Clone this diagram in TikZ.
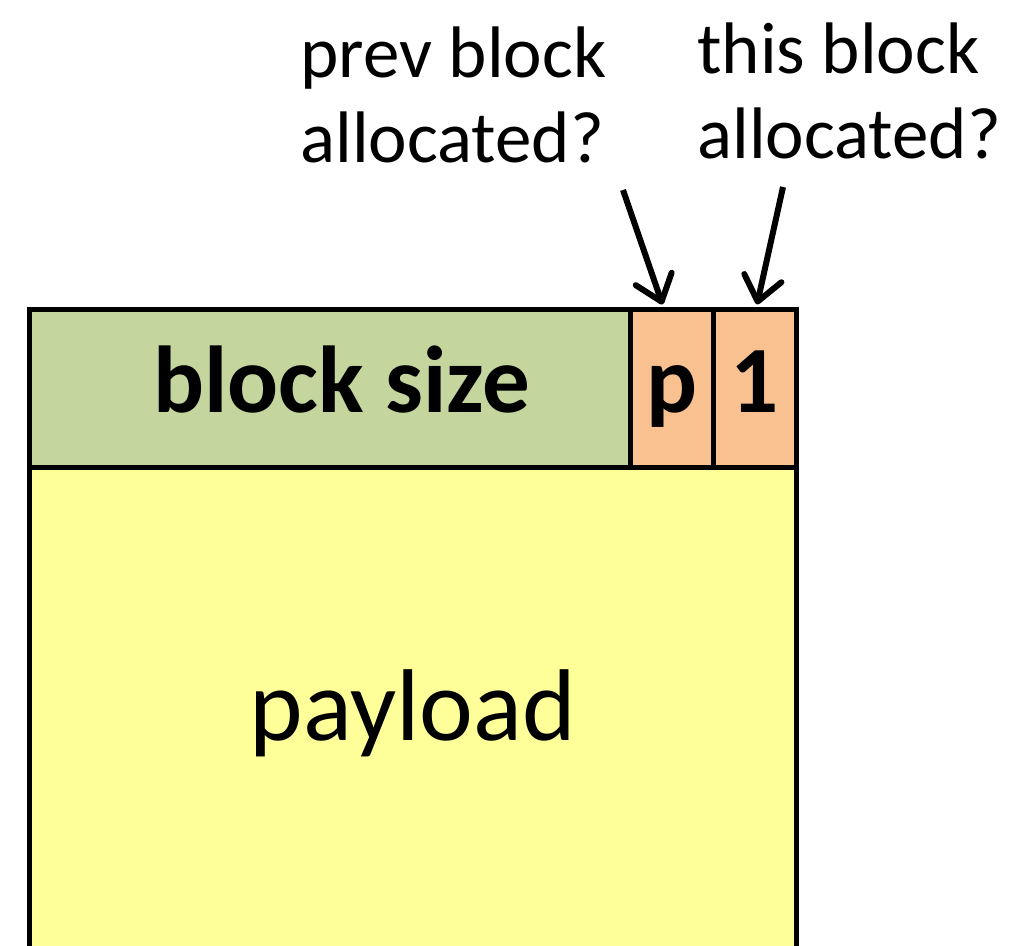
\documentclass[tikz,border=0pt]{standalone}
\usepackage{fontspec}
\setmainfont{Carlito}
\usetikzlibrary{positioning}
\usetikzlibrary{arrows.meta}
\definecolor{sizeGreen}{RGB}{196,214,157}
\definecolor{flagOrange}{RGB}{249,192,144}
\definecolor{payloadYellow}{RGB}{255,255,153}

\begin{document}
\begin{tikzpicture}[x=0.5pt,y=-0.5pt]

          \tikzstyle{boxEdge} = [draw, line width=2.5pt, inner sep=0pt];
          \tikzstyle{headerBox} = [boxEdge, minimum height=78.5pt, text height=23.5pt, text depth=0pt, font=\bfseries\fontsize{47.5}{57}\selectfont];
          \tikzstyle{sizeBox} = [headerBox, fill=sizeGreen, minimum width=300.25pt];
          \tikzstyle{flagBox} = [headerBox, fill=flagOrange, minimum width=41.5pt];
          \tikzstyle{payloadBox} = [boxEdge, fill=payloadYellow, minimum width=383.25pt, minimum height=246.5pt, font=\fontsize{51}{61}\selectfont];
          \tikzstyle{noteText} = [align=left, inner sep=0pt, font=\fontsize{36.5}{42.5}\selectfont];
          \tikzstyle{noteArrow} = [line width=3pt, -{Straight Barb[round,length=12pt,width=19pt]}];

          \useasboundingbox (0,0) rectangle (1016,946);
          \clip (0,0) rectangle (1016,946);

          \node[payloadBox] (payload) at (412.75,713.5) {payload};
          \node[sizeBox] (size) at (329.75,388.5) {\hspace*{12pt}block size};
          \node[flagBox] (p) at (671.5,388.5) {p};
          \node[flagBox] (one) at (754.5,388.5) {1};

          \node[noteText, anchor=north west] (prevNote) at (300,26) {prev block\\allocated?};
          \node[noteText, anchor=north west] (thisNote) at (697,22) {this block\\allocated?};

          \coordinate (prevTail) at (623,190);
          \coordinate (thisTail) at (783,187);

          \draw[noteArrow] (prevTail) -- ([xshift=-4.5pt,yshift=1.5pt]p.north);
          \draw[noteArrow] (thisTail) -- ([xshift=1.25pt,yshift=1.5pt]one.north);
        \end{tikzpicture}
\end{document}
